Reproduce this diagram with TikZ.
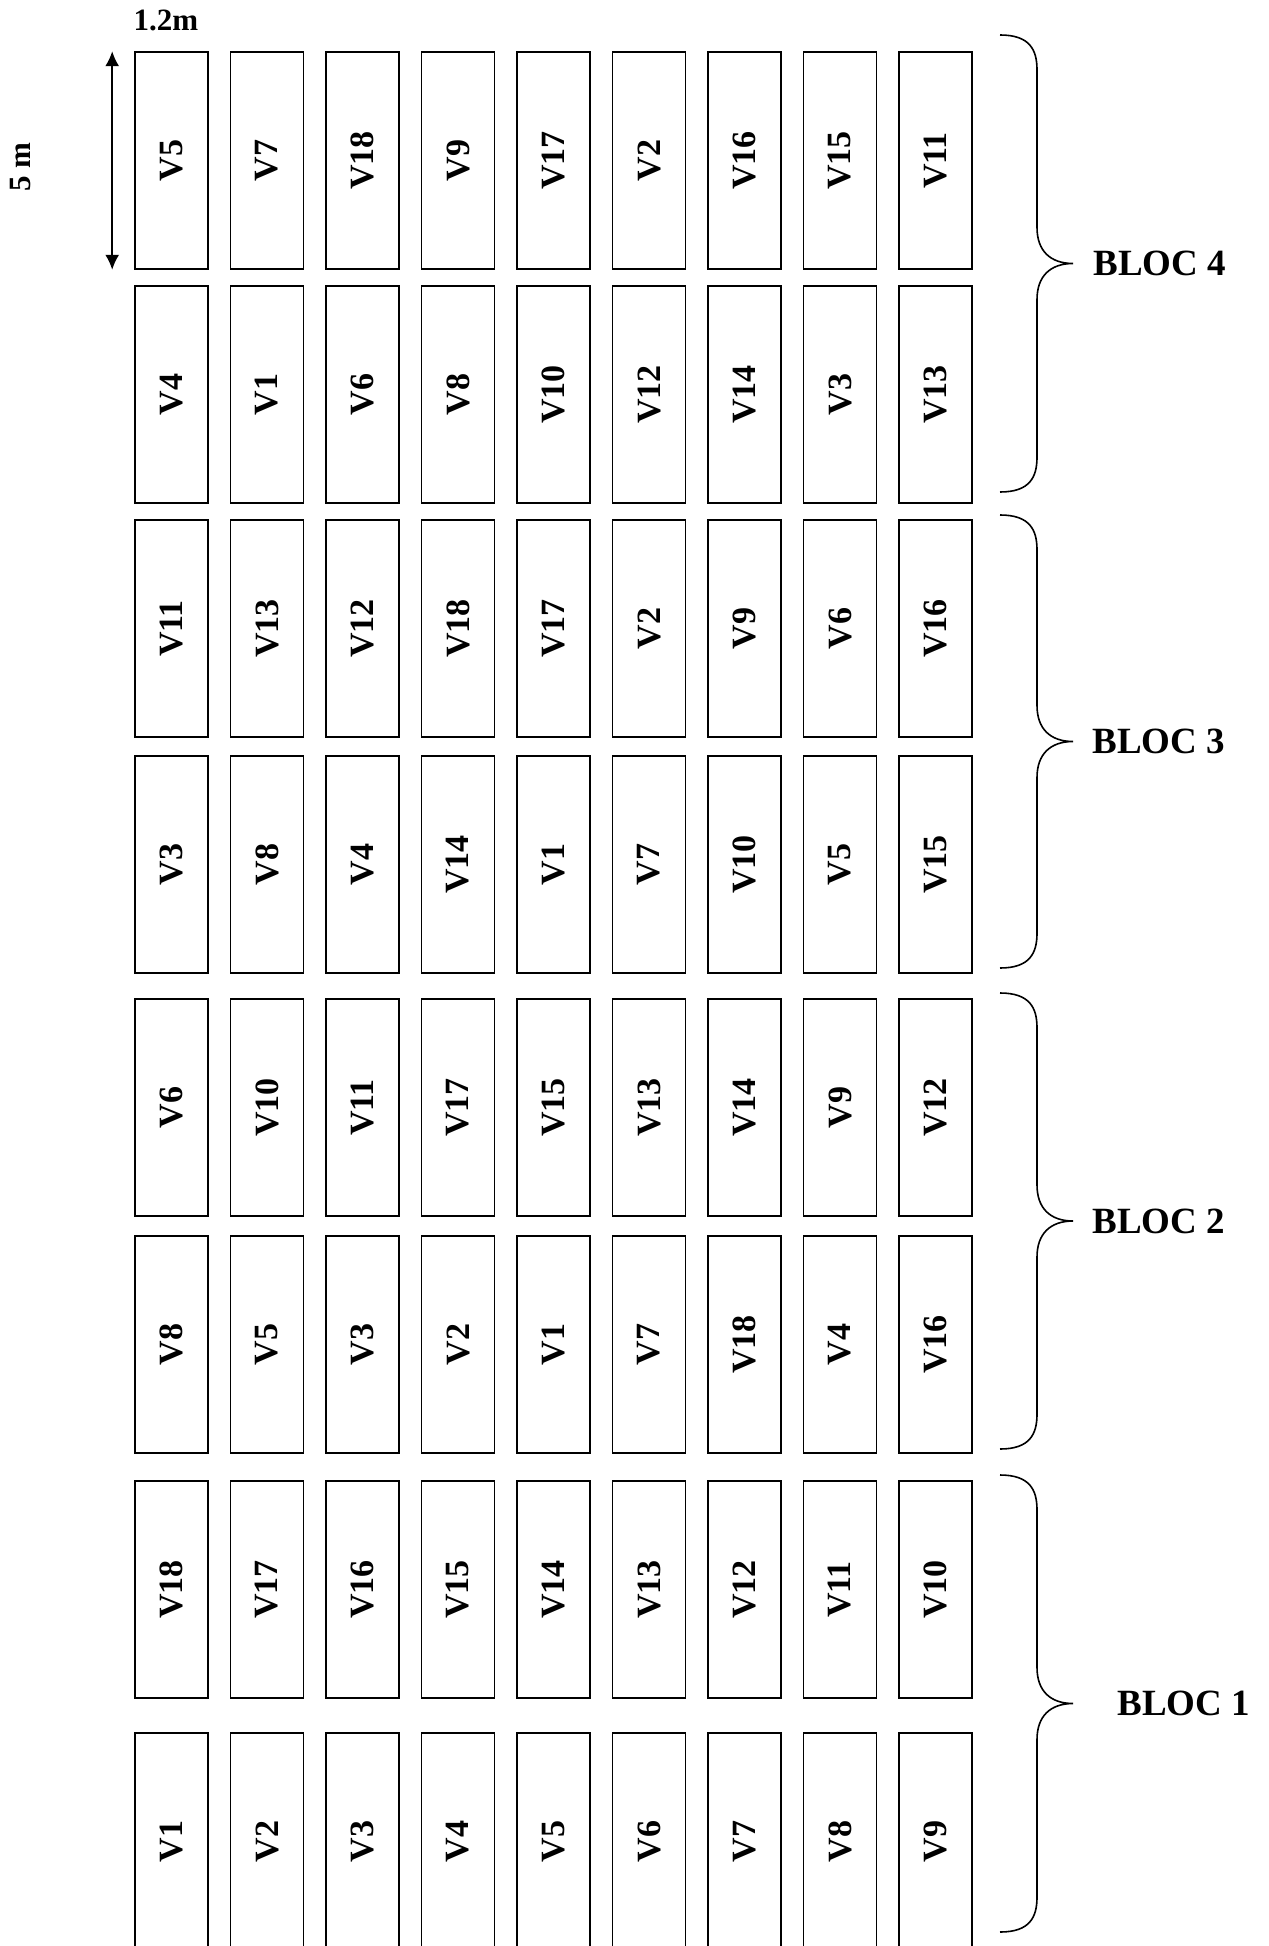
\documentclass[tikz,border=0pt]{standalone}
\usepackage{fontspec}
\setmainfont{Liberation Serif}
\usetikzlibrary{arrows.meta}

\tikzset{
  plot/.style={draw, line width=0.8pt, minimum width=36.5pt, minimum height=108.5pt,
    inner sep=0pt, font=\fontsize{17}{19}\selectfont\bfseries},
  bloc/.style={font=\fontsize{18.5}{22}\selectfont\bfseries, anchor=west, inner sep=0pt},
  dim/.style={font=\fontsize{15.5}{18}\selectfont\bfseries},
}

\begin{document}
\begin{tikzpicture}[x=0.5pt, y=-0.5pt]
  \useasboundingbox (0,0) rectangle (1268,1946);

  % plots, row by row from the top
  \foreach \r/\top/\names in {
      1/52/{5,7,18,9,17,2,16,15,11},
      2/286/{4,1,6,8,10,12,14,3,13},
      3/520/{11,13,12,18,17,2,9,6,16},
      4/756/{3,8,4,14,1,7,10,5,15},
      5/999/{6,10,11,17,15,13,14,9,12},
      6/1236/{8,5,3,2,1,7,18,4,16},
      7/1481/{18,17,16,15,14,13,12,11,10},
      8/1733/{1,2,3,4,5,6,7,8,9}}
    \foreach \v [count=\c] in \names
      \node[plot] (p\r-\c) at ({171.5+95.5*(\c-1)}, {\top+108.5}) {\rotatebox{90}{V\v}};

  % dimensions
  \node[dim] (width) at (166,20) {1.2m};
  \node[dim, rotate=90] (length) at (21,167) {5 m};
  \coordinate (dimtop) at ([xshift=-11pt]p1-1.north west);
  \coordinate (dimbot) at ([xshift=-11pt]p1-1.south west);
  \draw[{Latex[length=7.5pt,width=7pt]}-{Latex[length=7.5pt,width=7pt]}, line width=0.9pt]
    (dimtop) -- (dimbot);

  % blocs
  \foreach \b/\ta/\tb/\lx in {4/35/492/1093, 3/515/968/1092, 2/993/1449/1092, 1/1475/1932/1117} {
    \pgfmathsetmacro\tm{(\ta+\tb)/2}
    \draw[line width=0.8pt] (1000,\ta) .. controls (1030,\ta) and (1037,\ta+15) .. (1037,\ta+35)
      -- (1037,\tm-36) .. controls (1037,\tm-13) and (1050,\tm) .. (1073,\tm)
      .. controls (1050,\tm) and (1037,\tm+13) .. (1037,\tm+36)
      -- (1037,\tb-35) .. controls (1037,\tb-15) and (1030,\tb) .. (1000,\tb);
    \node[bloc] (bloc\b) at (\lx,\tm) {BLOC \b};
  }
\end{tikzpicture}
\end{document}
